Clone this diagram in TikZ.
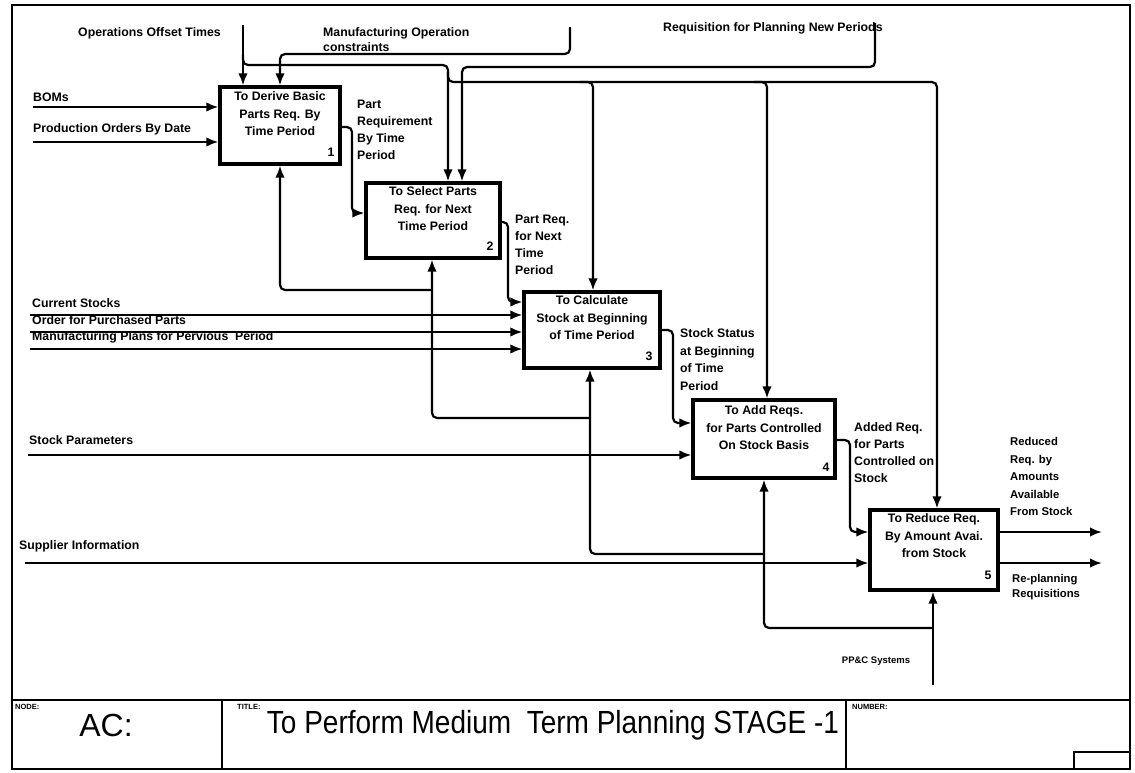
\documentclass[tikz,border=0pt]{standalone}
\usepackage{fontspec}
\setmainfont{Liberation Sans}
\usetikzlibrary{arrows.meta}
\begin{document}
\begin{tikzpicture}[x=1pt,y=-1pt,
  lblfont/.style={font=\fontsize{12.3}{17.5}\selectfont\bfseries},
  lbl/.style={lblfont, inner sep=0pt, anchor=west, text height=8.8pt, text depth=0pt},
  mlbl/.style={lblfont, inner sep=0pt, anchor=north west, align=left},
  procbox/.style={draw, line width=3.2pt, inner sep=0pt},
  boxtext/.style={lblfont, inner sep=0pt, anchor=north, align=center},
  boxnum/.style={lblfont, inner sep=0pt, anchor=south east},
  flow/.style={line width=2.2pt, -{Latex[length=12pt,width=9.5pt]}, rounded corners=5pt},
  frame/.style={line width=1.8pt},
  tag/.style={font=\fontsize{7.5}{8}\selectfont\bfseries, inner sep=0pt, anchor=north west},
]
\useasboundingbox (0,0) rectangle (1135,772);

% sheet frame and title block
\draw[frame] (12,5) rectangle (1130,769);
\draw[frame] (12,700) -- (1130,700);
\draw[frame] (222,700) -- (222,769);
\draw[frame] (846,700) -- (846,769);
\draw[frame] (1074,769) |- (1130,752);
\node[tag] (tNode) at (15,704) {NODE:};
\node[tag] (tTitle) at (237,704) {TITLE:};
\node[tag] (tNumber) at (852,704) {NUMBER:};
\node[font=\fontsize{32}{34}\selectfont, inner sep=0pt] (acNode) at (106,725) {AC:};
\node[inner sep=0pt] (acTitle) at (553,725)
  {\scalebox{0.875}[1]{\fontsize{32}{34}\selectfont To Perform Medium~ Term Planning STAGE -1}};

% activity boxes
\node[procbox, minimum width=120pt, minimum height=77pt] (b1) at (280,125.5) {};
\node[procbox, minimum width=134pt, minimum height=75pt] (b2) at (433,220.5) {};
\node[procbox, minimum width=136pt, minimum height=76pt] (b3) at (592,330) {};
\node[procbox, minimum width=142pt, minimum height=78pt] (b4) at (764,439) {};
\node[procbox, minimum width=128pt, minimum height=80pt] (b5) at (934,550) {};

\node[boxtext] (t1) at (280,91.6) {To Derive Basic\\Parts Req. By\\Time Period};
\node[boxtext] (t2) at (433,186.6) {To Select Parts\\Req. for Next\\Time Period};
\node[boxtext] (t3) at (592,295.6) {To Calculate\\Stock at Beginning\\of Time Period};
\node[boxtext] (t4) at (764,405.6) {To Add Reqs.\\for Parts Controlled\\On Stock Basis};
\node[boxtext] (t5) at (934,513.6) {To Reduce Req.\\By Amount Avai.\\from Stock};

\node[boxnum] (n1) at ([xshift=-7pt,yshift=9pt]b1.south east) {1};
\node[boxnum] (n2) at ([xshift=-8pt,yshift=9pt]b2.south east) {2};
\node[boxnum] (n3) at ([xshift=-9pt,yshift=9pt]b3.south east) {3};
\node[boxnum] (n4) at ([xshift=-7pt,yshift=8pt]b4.south east) {4};
\node[boxnum] (n5) at ([xshift=-8pt,yshift=12pt]b5.south east) {5};

% inputs from the left
\node[lbl] (lBOM) at (33,97) {BOMs};
\coordinate (sBOM) at (33,107);
\draw[flow] (sBOM) -- (sBOM -| b1.west);
\node[lbl] (lProd) at (33,128) {Production Orders By Date};
\coordinate (sProd) at (33,142);
\draw[flow] (sProd) -- (sProd -| b1.west);

\node[lbl] (lCur) at (32,303) {Current Stocks};
\node[lbl] (lOrd) at (32,320) {Order for Purchased Parts};
\node[lbl] (lPlan) at (32,336.5) {Manufacturing Plans for Pervious~ Period};
\coordinate (sCur) at (30,315);
\coordinate (sOrd) at (30,332);
\coordinate (sPlan) at (30,349);
\draw[flow] (sCur) -- (sCur -| b3.west);
\draw[flow] (sOrd) -- (sOrd -| b3.west);
\draw[flow] (sPlan) -- (sPlan -| b3.west);

\node[lbl] (lStk) at (29,440) {Stock Parameters};
\coordinate (sStk) at (28,455);
\draw[flow] (sStk) -- (sStk -| b4.west);

\node[lbl] (lSup) at (19,545) {Supplier Information};
\coordinate (sSup) at (25,563);
\draw[flow] (sSup) -- (sSup -| b5.west);

% controls from the top
\node[lbl] (lOps) at (78,32) {Operations Offset Times};
\coordinate (opsTop) at (243,25);
\coordinate (opsJ1) at (243,55);
\coordinate (opsK1) at (448,65);
\coordinate (opsJ2) at (448,72);
\coordinate (opsK2) at (593,82);
\coordinate (opsB3) at (580,82);
\coordinate (opsK3) at (767,82);
\coordinate (opsB4) at (754,82);
\coordinate (opsK4) at (937,82);
\draw[flow] (opsTop) -- (opsTop |- b1.north);
\draw[flow] (opsJ1) |- (opsK1) -- (opsK1 |- b2.north);
\draw[flow] (opsJ2) |- (opsK4) -- (opsK4 |- b5.north);
\draw[flow] (opsB3) -| (opsK2 |- b3.north);
\draw[flow] (opsB4) -| (opsK3 |- b4.north);

\node[mlbl, font=\fontsize{12.3}{15.5}\selectfont\bfseries] (lMfg) at (323,27) {Manufacturing Operation\\constraints};
\coordinate (mfgTop) at (570,27);
\coordinate (mfgK) at (280,54);
\draw[flow] (mfgTop) |- (mfgK) -- (mfgK |- b1.north);

\node[lbl] (lReq) at (663,27) {Requisition for Planning New Periods};
\coordinate (reqTop) at (875,23);
\coordinate (reqK) at (462,67);
\draw[flow] (reqTop) |- (reqK) -- (reqK |- b2.north);

% outputs passed from box to box
\coordinate (o1k) at (352,127);
\coordinate (o1e) at (352,213);
\draw[flow] (o1k -| b1.east) -- (o1k) -- (o1e) -- (o1e -| b2.west);
\node[mlbl, font=\fontsize{12.3}{17}\selectfont\bfseries] (lO1) at (357,99.6) {Part\\Requirement\\By Time\\Period};

\coordinate (o2k) at (508,222);
\coordinate (o2e) at (508,302);
\draw[flow] (o2k -| b2.east) -- (o2k) -- (o2e) -- (o2e -| b3.west);
\node[mlbl, font=\fontsize{12.3}{17}\selectfont\bfseries] (lO2) at (515,214.6) {Part Req.\\for Next\\Time\\Period};

\coordinate (o3k) at (673,330);
\coordinate (o3e) at (673,423);
\draw[flow] (o3k -| b3.east) -- (o3k) -- (o3e) -- (o3e -| b4.west);
\node[mlbl] (lO3) at (680,328.6) {Stock Status\\at Beginning\\of Time\\Period};

\coordinate (o4k) at (850,440);
\coordinate (o4e) at (850,532);
\draw[flow] (o4k -| b4.east) -- (o4k) -- (o4e) -- (o4e -| b5.west);
\node[mlbl, font=\fontsize{12.3}{17}\selectfont\bfseries] (lO4) at (854,422.6) {Added Req.\\for Parts\\Controlled on\\Stock};

% final outputs
\coordinate (o5a) at (1102,532);
\coordinate (o5b) at (1102,563);
\draw[flow] (o5a -| b5.east) -- (o5a);
\draw[flow] (o5b -| b5.east) -- (o5b);
\node[mlbl, font=\fontsize{11.3}{17.5}\selectfont\bfseries] (lO5) at (1010,437.6) {Reduced\\Req. by\\Amounts\\Available\\From Stock};
\node[mlbl, font=\fontsize{11.3}{16}\selectfont\bfseries] (lO6) at (1012,573.6) {Re-planning\\Requisitions};

% mechanism tree from below
\coordinate (m1) at (280,290);
\coordinate (m2) at (432,418);
\coordinate (m3) at (590,554);
\coordinate (m4) at (764,628);
\coordinate (m5) at (933,685);
\draw[flow] (m2 |- m1) -- (m1) -- (m1 |- b1.south);
\draw[flow] (m3 |- m2) -- (m2) -- (m2 |- b2.south);
\draw[flow] (m4 |- m3) -- (m3) -- (m3 |- b3.south);
\draw[flow] (m5 |- m4) -- (m4) -- (m4 |- b4.south);
\draw[flow] (m5) -- (m5 |- b5.south);
\node[font=\fontsize{9.5}{10}\selectfont\bfseries, inner sep=0pt] (lPPC) at (876,661) {PP\&C Systems};
\end{tikzpicture}
\end{document}
